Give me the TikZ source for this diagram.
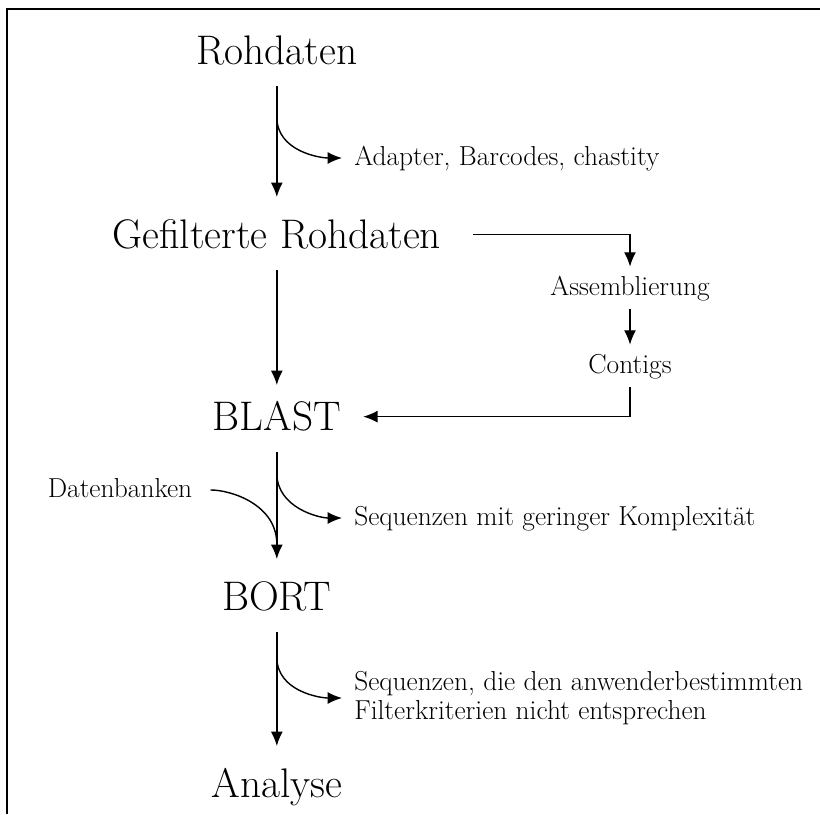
\documentclass[tikz,border=0pt]{standalone}
\usepackage{fontspec}
\usetikzlibrary{positioning,arrows.meta}
\tikzset{
  stage/.style={font=\fontsize{29.4}{35}\selectfont, inner sep=0pt, text height=19pt, text depth=0pt, anchor=base},
  note/.style={font=\fontsize{19.5}{23}\selectfont, inner sep=0pt, text height=10pt, text depth=0pt},
  notelines/.style={font=\fontsize{19.5}{20.6}\selectfont, inner sep=0pt, align=left},
  flow/.style={line width=1pt, -{Latex[length=0.36cm,width=0.3cm]}},
  mainflow/.style={flow, shorten <=0.55cm, shorten >=0.6cm},
  sideflow/.style={flow, shorten <=0.35cm, shorten >=0.35cm},
}

\begin{document}
\begin{tikzpicture}
    \useasboundingbox (0,0) rectangle (20.5,-20.35);
    % Frame (open to the right and bottom)
    \draw[line width=1.3pt] (0.175,-20.35) -- (0.175,-0.225) -- (20.5,-0.225);

    % Main pipeline (centre column)
    \node[stage] (raw) at (6.92,-1.6) {Rohdaten};
    \node[stage] (filtered) at (6.92,-6.2) {Gefilterte Rohdaten};
    \node[stage] (blast) at (6.92,-10.75) {BLAST};
    \node[stage] (bort) at (6.92,-15.25) {BORT};
    \node[stage] (analysis) at (6.92,-19.925) {Analyse};

    \draw[mainflow] (raw) -- (filtered);
    \draw[mainflow, shorten >=0.45cm] (filtered) -- (blast);
    \draw[mainflow] (blast) -- (bort);
    \draw[mainflow] (bort) -- (analysis);

    % Removed in filtering step
    \coordinate (cut1) at (6.92,-2.925);
    \node[note, anchor=west] (adapter) at (8.85,-3.95) {Adapter, Barcodes, chastity};
    \draw[flow, shorten >=0.3cm] (cut1) to[out=-90, in=180] (adapter.west);

    % Assembly branch (right)
    \node[note, anchor=base] (assembly) at (15.75,-7.375) {Assemblierung};
    \node[note, anchor=base] (contigs) at (15.75,-9.325) {Contigs};
    \draw[flow, shorten <=0.8cm, shorten >=0.35cm] (filtered.east) -| (assembly.north);
    \draw[sideflow] (assembly) -- (contigs);
    \draw[flow, shorten <=0.35cm, shorten >=0.55cm] (contigs.south) |- (blast.east);

    % Databases joining, low complexity removed
    \node[note, anchor=base] (databases) at (3.0,-12.425) {Datenbanken};
    \coordinate (merge) at (6.92,-13.6);
    \draw[line width=1pt, shorten <=0.45cm] (databases.east) to[out=0, in=90] (merge);
    \coordinate (cut2) at (6.92,-11.825);
    \node[note, anchor=west] (lowcomplex) at (8.85,-12.95) {Sequenzen mit geringer Komplexität};
    \draw[flow, shorten >=0.3cm] (cut2) to[out=-90, in=180] (lowcomplex.west);

    % Removed by user filter
    \coordinate (cut3) at (6.92,-16.425);
    \node[notelines, anchor=west] (userfilter) at (8.85,-17.45) {Sequenzen, die den anwenderbestimmten\\Filterkriterien nicht entsprechen};
    \draw[flow, shorten >=0.3cm] (cut3) to[out=-90, in=180] (userfilter.west);
\end{tikzpicture}
\end{document}
